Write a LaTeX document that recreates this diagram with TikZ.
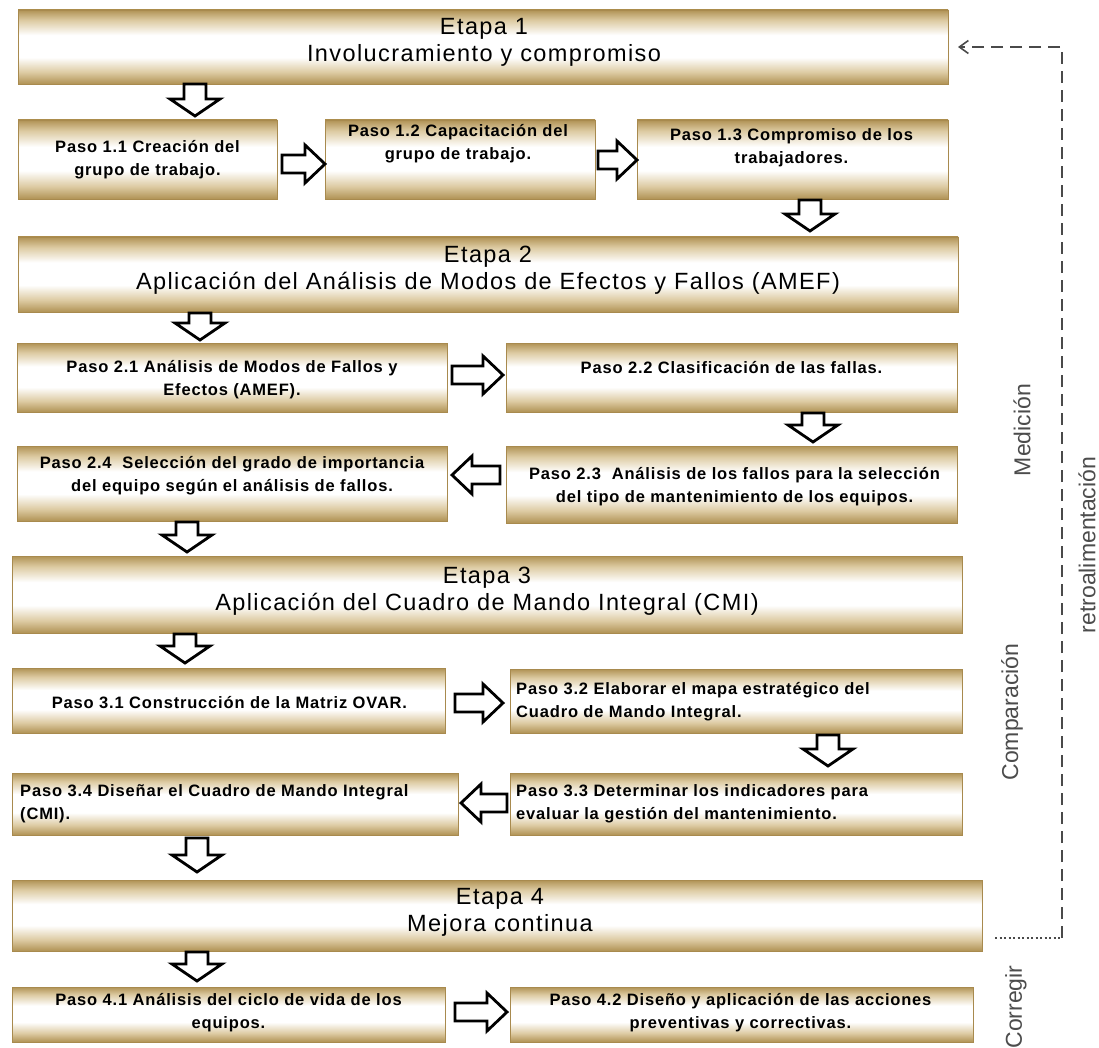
\documentclass[tikz,border=0pt]{standalone}
\usepackage{fontspec}
\setmainfont{Liberation Sans}
\newfontfamily\etapafont[LetterSpace=6]{Liberation Sans}
\newfontfamily\pasofont[LetterSpace=5]{Liberation Sans}
\usetikzlibrary{calc,arrows.meta}

\definecolor{golddark}{HTML}{B09254}
\definecolor{goldmid}{HTML}{DDCBA3}
\definecolor{goldedge}{HTML}{A88A4E}
\definecolor{fbgray}{HTML}{4A4A4A}

% gold bar: dark rim on top, white band, darker towards the bottom
\pgfdeclareverticalshading{goldbar}{100bp}{%
  color(0bp)=(golddark); color(25bp)=(golddark); color(33bp)=(goldmid);
  color(43bp)=(white); color(58bp)=(white); color(68bp)=(goldmid);
  color(73bp)=(golddark!70!goldmid); color(75bp)=(golddark); color(100bp)=(golddark)}

% hollow block arrow from #1 (tail) to #2 (tip);
% #3 half head width, #4 half shaft width, #5 head length (all in pt)
\newcommand\blockarrow[5]{%
  \draw[blockline] let \p1=(#1), \p2=(#2),
      \n1={atan2(\y2-\y1,\x2-\x1)}, \n2={veclen(\x2-\x1,\y2-\y1)},
      \n3={\n1+180+atan2(#3,#5)}, \n4={veclen(#3,#5)*1pt}
    in (#1) ++(\n1+90:#4pt) -- ++(\n1:\n2-#5pt) -- ++(\n1+90:#3pt-#4pt)
       -- (#2) -- ++(\n3:\n4) -- ++(\n1+90:#3pt-#4pt)
       -- ++(\n1+180:\n2-#5pt) -- cycle;}
\newcommand\downarrowblk[2]{\blockarrow{#1}{#2}{25}{11}{17}}
\newcommand\sidearrowblk[2]{\blockarrow{#1}{#2}{19}{9}{20}}

\begin{document}
\begin{tikzpicture}[x=1pt,y=-1pt,
  box/.style={shade, shading=goldbar, draw=goldedge, line width=0.6pt,
    inner sep=0pt, outer sep=0pt, anchor=north west},
  etxt/.style={font=\etapafont\fontsize{23.5}{27}\selectfont, align=center,
    text=black, inner sep=0pt},
  ptxt/.style={font=\pasofont\bfseries\fontsize{16.5}{23}\selectfont,
    align=center, inner sep=0pt},
  pltxt/.style={ptxt, align=left, anchor=west},
  side/.style={font=\fontsize{23}{27}\selectfont, text=black!70, rotate=90,
    inner sep=0pt},
  blockline/.style={draw=black, fill=white, line width=2.8pt, line join=miter},
  fbdash/.style={draw=fbgray, line width=1.9pt, dash pattern=on 12pt off 7pt},
  fbdot/.style={draw=fbgray, line width=1.3pt, dash pattern=on 2pt off 2.5pt}]

\useasboundingbox[fill=white] (0,0) rectangle (1099,1048);

% ---------- Etapa 1 ----------
\node[box, minimum width=930pt, minimum height=74pt] (e1) at (18,10) {};
\node[etxt] (t-e1) at ($(e1.north)+(1,32)$) {Etapa 1\\Involucramiento y compromiso};

\node[box, minimum width=259pt, minimum height=79pt] (p11) at (18,120) {};
\node[ptxt] (t-p11) at ($(p11.north)+(0,40)$) {Paso 1.1 Creación del\\grupo de trabajo.};
\node[box, minimum width=270pt, minimum height=79pt] (p12) at (325,120) {};
\node[ptxt] (t-p12) at ($(p12.north)+(-2,24)$) {Paso 1.2 Capacitación del\\grupo de trabajo.};
\node[box, minimum width=311pt, minimum height=79pt] (p13) at (637,120) {};
\node[ptxt] (t-p13) at ($(p13.north)+(-1,28)$) {Paso 1.3 Compromiso de los\\trabajadores.};

% ---------- Etapa 2 ----------
\node[box, minimum width=940pt, minimum height=75pt] (e2) at (18,237) {};
\node[etxt] (t-e2) at ($(e2.north)+(0,33)$) {Etapa 2\\Aplicación del Análisis de Modos de Efectos y Fallos (AMEF)};

\node[box, minimum width=430pt, minimum height=69pt] (p21) at (17,343) {};
\node[ptxt] (t-p21) at ($(p21.north)+(0,37)$) {Paso 2.1 Análisis de Modos de Fallos y\\Efectos (AMEF).};
\node[box, minimum width=451pt, minimum height=69pt] (p22) at (506,343) {};
\node[ptxt] (t-p22) at ($(p22.north)+(0,25)$) {Paso 2.2 Clasificación de las fallas.};
\node[box, minimum width=451pt, minimum height=77pt] (p23) at (506,446) {};
\node[ptxt] (t-p23) at ($(p23.north)+(3,41)$) {Paso 2.3\ \ Análisis de los fallos para la selección\\del tipo de mantenimiento de los equipos.};
\node[box, minimum width=430pt, minimum height=75pt] (p24) at (17,446) {};
\node[ptxt] (t-p24) at ($(p24.north)+(0,30)$) {Paso 2.4\ \ Selección del grado de importancia\\del equipo según el análisis de fallos.};

% ---------- Etapa 3 ----------
\node[box, minimum width=950pt, minimum height=77pt] (e3) at (12,556) {};
\node[etxt] (t-e3) at ($(e3.north)+(0,35)$) {Etapa 3\\Aplicación del Cuadro de Mando Integral (CMI)};

\node[box, minimum width=433pt, minimum height=65pt] (p31) at (12,668) {};
\node[ptxt] (t-p31) at ($(p31.north)+(1,35)$) {Paso 3.1 Construcción de la Matriz OVAR.};
\node[box, minimum width=452pt, minimum height=64pt] (p32) at (510,669) {};
\node[pltxt] (t-p32) at ($(p32.north west)+(6,33)$) {Paso 3.2 Elaborar el mapa estratégico del\\Cuadro de Mando Integral.};
\node[box, minimum width=452pt, minimum height=62pt] (p33) at (510,773) {};
\node[pltxt] (t-p33) at ($(p33.north west)+(6,31)$) {Paso 3.3 Determinar los indicadores para\\evaluar la gestión del mantenimiento.};
\node[box, minimum width=446pt, minimum height=62pt] (p34) at (12,773) {};
\node[pltxt] (t-p34) at ($(p34.north west)+(8,31)$) {Paso 3.4 Diseñar el Cuadro de Mando Integral\\(CMI).};

% ---------- Etapa 4 ----------
\node[box, minimum width=970pt, minimum height=71pt] (e4) at (12,880) {};
\node[etxt] (t-e4) at ($(e4.north)+(3,32)$) {Etapa 4\\Mejora continua};

\node[box, minimum width=433pt, minimum height=55pt] (p41) at (12,987) {};
\node[ptxt] (t-p41) at ($(p41.north)+(0,26)$) {Paso 4.1 Análisis del ciclo de vida de los\\equipos.};
\node[box, minimum width=463pt, minimum height=55pt] (p42) at (510,987) {};
\node[ptxt] (t-p42) at ($(p42.north)+(-1,26)$) {Paso 4.2 Diseño y aplicación de las acciones\\preventivas y correctivas.};

% ---------- flow arrows ----------
\downarrowblk{$(e1.south west)+(177,0)$}{$(p11.north west)+(177,-4)$}
\sidearrowblk{$(p11.north east)+(5,44)$}{$(p12.north west)+(0,44)$}
\sidearrowblk{$(p12.north east)+(3,40)$}{$(p13.north west)+(0,40)$}
\downarrowblk{$(p13.south west)+(173,1)$}{$(e2.north west)+(792,-6)$}
\downarrowblk{$(e2.south west)+(182,1)$}{$(p21.north west)+(183,-3)$}
\sidearrowblk{$(p21.north east)+(5,32)$}{$(p22.north west)+(-3,32)$}
\downarrowblk{$(p22.south west)+(307,1)$}{$(p23.north west)+(307,-4)$}
\sidearrowblk{$(p23.north west)+(-6,29)$}{$(p24.north east)+(5,29)$}
\downarrowblk{$(p24.south west)+(170,1)$}{$(e3.north west)+(175,-4)$}
\downarrowblk{$(e3.south west)+(173,1)$}{$(p31.north west)+(173,-5)$}
\sidearrowblk{$(p31.north east)+(10,35)$}{$(p32.north west)+(-7,34)$}
\downarrowblk{$(p32.south west)+(318,2)$}{$(p33.north west)+(318,-7)$}
\sidearrowblk{$(p33.north west)+(-3,30)$}{$(p34.north east)+(3,30)$}
\downarrowblk{$(p34.south west)+(185,3)$}{$(e4.north west)+(185,-8)$}
\downarrowblk{$(e4.south west)+(185,1)$}{$(p41.north west)+(185,-6)$}
\sidearrowblk{$(p41.north east)+(10,25)$}{$(p42.north west)+(-3,25)$}

% ---------- feedback loop ----------
\coordinate (fb-start) at ($(e4.south east)+(13,-13)$);
\coordinate (fb-corner) at ($(e4.south east)+(80,-13)$);
\coordinate (fb-top) at ($(e1.east)+(114,0)$);
\coordinate (fb-end) at ($(e1.east)+(10,0)$);
\draw[fbdot] (fb-start) -- (fb-corner);
\draw[fbdash, -{Straight Barb[length=9pt,width=13pt,line width=1.6pt]}]
  (fb-corner) -- (fb-top) -- (fb-end);

% ---------- side labels ----------
\node[side] (l-med) at (1022,430) {Medición};
\node[side] (l-comp) at (1012,712) {Comparación};
\node[side] (l-corr) at (1016,1007) {Corregir};
\node[side] (l-retro) at (1087,545) {retroalimentación};
\end{tikzpicture}
\end{document}
